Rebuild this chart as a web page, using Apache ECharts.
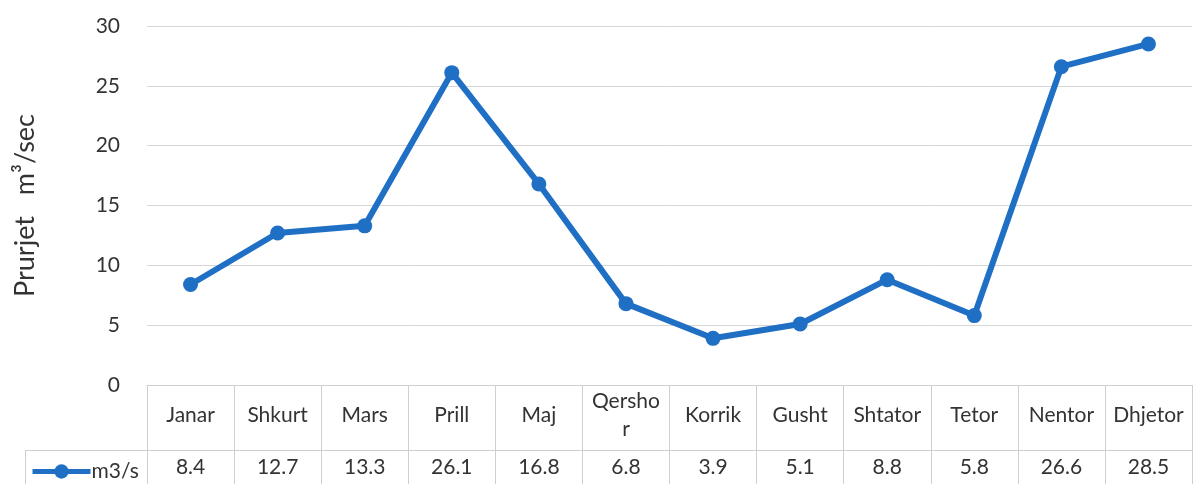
<!DOCTYPE html>
<html>
<head>
<meta charset="utf-8">
<script src="https://cdn.jsdelivr.net/npm/echarts@6/dist/echarts.min.js"></script>
<style>
html,body{margin:0;padding:0;background:#fff;}
#chart{width:1193px;height:484px;}
</style>
</head>
<body>
<div id="chart"></div>
<script>
var categories = ['Janar','Shkurt','Mars','Prill','Maj','Qershor','Korrik','Gusht','Shtator','Tetor','Nentor','Dhjetor'];
var values = [8.4, 12.7, 13.3, 26.1, 16.8, 6.8, 3.9, 5.1, 8.8, 5.8, 26.6, 28.5];
var seriesName = 'm3/s';
var yTicks = {min: 0, max: 30, interval: 5};
var yTitle = 'Prurjet   m\u00B3/sec';
// how the header cell wraps a label that is too wide for its column
var headerWrap = {'Qershor': 'Qersho\nr'};

var FONT = 'Lato, "Open Sans", sans-serif';
var TEXT = '#333333';
var GRIDC = '#d6d6d6';
var TABLEC = '#cfcfcf';
var BLUE = '#1f6fc5';

var chart = echarts.init(document.getElementById('chart'));
chart.setOption({
  backgroundColor: '#fff',
  animation: false,
  textStyle: {fontFamily: FONT},
  grid: {left: 147, right: 1, top: 26, bottom: 99, containLabel: false},
  legend: {
    left: 25, top: 456,
    itemWidth: 58, itemHeight: 18,
    itemGap: 0,
    lineStyle: {width: 5},
    textStyle: {fontFamily: FONT, fontSize: 21, color: TEXT, padding: [0,0,0,-4]},
    data: [seriesName]
  },
  xAxis: [{
    type: 'category',
    data: categories,
    position: 'bottom',
    boundaryGap: true,
    axisLine: {show: true, lineStyle: {color: TABLEC, width: 1}},
    axisTick: {show: true, length: 99, lineStyle: {color: TABLEC, width: 1}},
    axisLabel: {
      show: true, interval: 0, margin: 30, verticalAlign: 'middle',
      fontFamily: FONT, fontSize: 21, color: TEXT, lineHeight: 28,
      formatter: function (v) { return headerWrap[v] || v; }
    },
    splitLine: {show: false}
  }, {
    type: 'category',
    data: categories,
    position: 'bottom',
    offset: 65,
    boundaryGap: true,
    axisLine: {show: true, onZero: false, lineStyle: {color: TABLEC, width: 1}},
    axisTick: {show: false},
    axisLabel: {
      show: true, interval: 0, margin: 17, verticalAlign: 'middle',
      fontFamily: FONT, fontSize: 21, color: TEXT,
      formatter: function (v, i) { return String(values[i]); }
    },
    splitLine: {show: false}
  }],
  yAxis: {
    type: 'value',
    min: yTicks.min, max: yTicks.max, interval: yTicks.interval,
    name: yTitle,
    nameLocation: 'middle',
    nameRotate: 90,
    nameGap: 108,
    nameTextStyle: {fontFamily: FONT, fontSize: 27, color: TEXT},
    axisLine: {show: false},
    axisTick: {show: false},
    axisLabel: {fontFamily: FONT, fontSize: 21, color: TEXT, margin: 27},
    splitLine: {show: true, lineStyle: {color: GRIDC, width: 1}}
  },
  graphic: [
    {type: 'line', shape: {x1: 25, y1: 450.5, x2: 147, y2: 450.5}, style: {stroke: TABLEC, lineWidth: 1}, silent: true},
    {type: 'line', shape: {x1: 25.5, y1: 450, x2: 25.5, y2: 484}, style: {stroke: TABLEC, lineWidth: 1}, silent: true}
  ],
  series: [{
    name: seriesName,
    type: 'line',
    xAxisIndex: 0,
    data: values,
    symbol: 'circle',
    symbolSize: 15,
    lineStyle: {color: BLUE, width: 6},
    itemStyle: {color: BLUE},
    label: {show: false}
  }]
});
</script>
</body>
</html>
